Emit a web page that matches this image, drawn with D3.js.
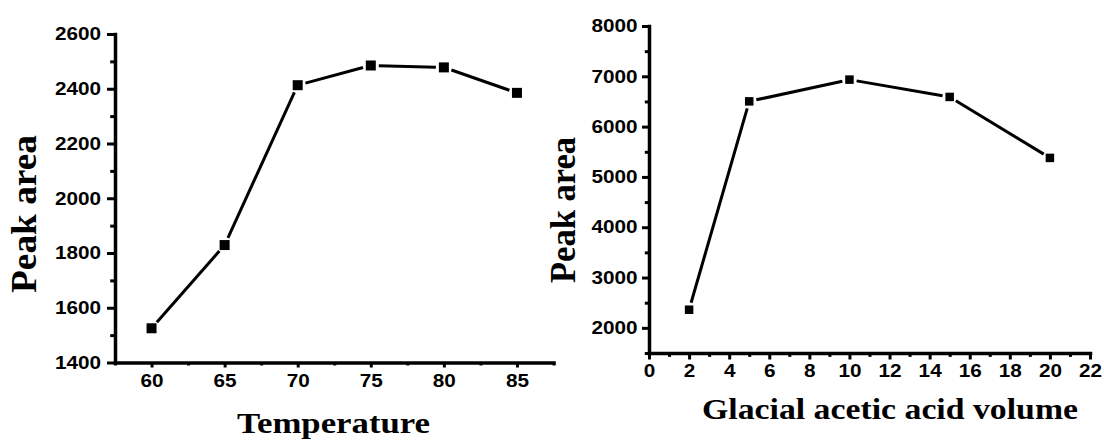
<!DOCTYPE html>
<html>
<head>
<meta charset="utf-8">
<script src="https://cdn.jsdelivr.net/npm/d3@7"></script>
<style>
  body { margin: 0; background: #fff; }
  svg { display: block; }
  .label { font-family: "Liberation Serif", "Times New Roman", serif; font-weight: bold; fill: #000; }
</style>
</head>
<body>
<div id="chart"></div>
<script>
// left panel: temperature
const tempX = [60, 65, 70, 75, 80, 85];
const tempArea = [1525, 1829, 2413, 2485, 2478, 2385];
const tempXTicks = [60, 65, 70, 75, 80, 85];
const tempXMinor = [57.5, 62.5, 67.5, 72.5, 77.5, 82.5, 87.5];
const tempYTicks = [1400, 1600, 1800, 2000, 2200, 2400, 2600];
const tempYMinor = [1500, 1700, 1900, 2100, 2300, 2500];

// right panel: glacial acetic acid volume
const acidX = [2, 5, 10, 15, 20];
const acidArea = [2360, 6502, 6934, 6590, 5378];
const acidXTicks = [0, 2, 4, 6, 8, 10, 12, 14, 16, 18, 20, 22];
const acidXMinor = [1, 3, 5, 7, 9, 11, 13, 15, 17, 19, 21];
const acidYTicks = [2000, 3000, 4000, 5000, 6000, 7000, 8000];
const acidYMinor = [1500, 2500, 3500, 4500, 5500, 6500, 7500];

const width = 1104, height = 442;

const svg = d3.select("#chart").append("svg")
    .attr("width", width)
    .attr("height", height);

const panels = [
  {
    xs: tempX, ys: tempArea,
    xDomain: [57.5, 87.5], yDomain: [1400, 2600],
    xTicks: tempXTicks, xMinor: tempXMinor, yTicks: tempYTicks, yMinor: tempYMinor,
    left: 115, right: 553.5, top: 34, bottom: 362.5,
    xTick: 5, xPad: 7, yTick: 8, yPad: 6, marker: 10,
    xLabel: "Temperature", xLabelX: 333.5, xLabelY: 433, xLabelLen: 193,
    yLabelX: 36, yLabelY: 214, yLabelLen: 158
  },
  {
    xs: acidX, ys: acidArea,
    xDomain: [0, 22], yDomain: [1500, 8000],
    xTicks: acidXTicks, xMinor: acidXMinor, yTicks: acidYTicks, yMinor: acidYMinor,
    left: 649, right: 1090, top: 26, bottom: 353,
    xTick: 6.5, xPad: 5, yTick: 7, yPad: 4.5, marker: 8.5,
    xLabel: "Glacial acetic acid volume", xLabelX: 890, xLabelY: 419, xLabelLen: 376,
    yLabelX: 575, yLabelY: 210, yLabelLen: 146
  }
];

panels.forEach(p => {
  const x = d3.scaleLinear().domain(p.xDomain).range([p.left, p.right]);
  const y = d3.scaleLinear().domain(p.yDomain).range([p.bottom, p.top]);
  const g = svg.append("g");

  // minor ticks first, no labels
  g.append("g")
    .attr("transform", `translate(0,${p.bottom})`)
    .call(d3.axisBottom(x).tickValues(p.xMinor).tickSize(p.xTick * 0.6).tickFormat(""))
    .call(s => s.select(".domain").remove());
  g.append("g")
    .attr("transform", `translate(${p.left},0)`)
    .call(d3.axisLeft(y).tickValues(p.yMinor).tickSize(p.yTick * 0.6).tickFormat(""))
    .call(s => s.select(".domain").remove());

  g.append("g")
    .attr("transform", `translate(0,${p.bottom})`)
    .call(d3.axisBottom(x).tickValues(p.xTicks).tickFormat(d3.format("d"))
      .tickSize(p.xTick).tickSizeOuter(0).tickPadding(p.xPad));
  g.append("g")
    .attr("transform", `translate(${p.left},0)`)
    .call(d3.axisLeft(y).tickValues(p.yTicks).tickFormat(d3.format("d"))
      .tickSize(p.yTick).tickSizeOuter(0).tickPadding(p.yPad));

  g.selectAll(".tick line").attr("stroke", "#000").attr("stroke-width", 3);
  g.selectAll(".domain").attr("stroke", "#000").attr("stroke-width", 3.5).attr("stroke-linecap", "square");

  // bold sans digits, widened a little since the scan is stretched sideways
  g.selectAll(".tick text")
    .attr("font-family", "'Liberation Sans', Arial, sans-serif")
    .attr("font-weight", "bold")
    .attr("font-size", 18)
    .attr("fill", "#000")
    .each(function() {
      const len = this.getComputedTextLength();
      if (len > 0) d3.select(this).attr("textLength", len * 1.15).attr("lengthAdjust", "spacingAndGlyphs");
    });

  // line segments stop short of the markers
  const pts = p.xs.map((v, i) => [x(v), y(p.ys[i])]);
  const gap = p.marker * 0.5 + 3;
  const segs = d3.pairs(pts).map(([a, b]) => {
    const dx = b[0] - a[0], dy = b[1] - a[1];
    const d = Math.hypot(dx, dy);
    return [a[0] + dx / d * gap, a[1] + dy / d * gap, b[0] - dx / d * gap, b[1] - dy / d * gap];
  });
  g.selectAll(".seg").data(segs).enter().append("line")
    .attr("class", "seg")
    .attr("x1", d => d[0]).attr("y1", d => d[1])
    .attr("x2", d => d[2]).attr("y2", d => d[3])
    .attr("stroke", "#000").attr("stroke-width", 3);

  g.selectAll(".pt").data(pts).enter().append("rect")
    .attr("class", "pt")
    .attr("x", d => d[0] - p.marker / 2)
    .attr("y", d => d[1] - p.marker / 2)
    .attr("width", p.marker).attr("height", p.marker)
    .attr("fill", "#000");

  g.append("text")
    .attr("class", "label")
    .attr("x", p.xLabelX).attr("y", p.xLabelY)
    .attr("text-anchor", "middle")
    .attr("font-size", 30)
    .attr("textLength", p.xLabelLen).attr("lengthAdjust", "spacingAndGlyphs")
    .text(p.xLabel);

  g.append("text")
    .attr("class", "label")
    .attr("transform", `translate(${p.yLabelX},${p.yLabelY}) rotate(-90)`)
    .attr("text-anchor", "middle")
    .attr("font-size", 35)
    .attr("textLength", p.yLabelLen).attr("lengthAdjust", "spacingAndGlyphs")
    .text("Peak area");
});
</script>
</body>
</html>
